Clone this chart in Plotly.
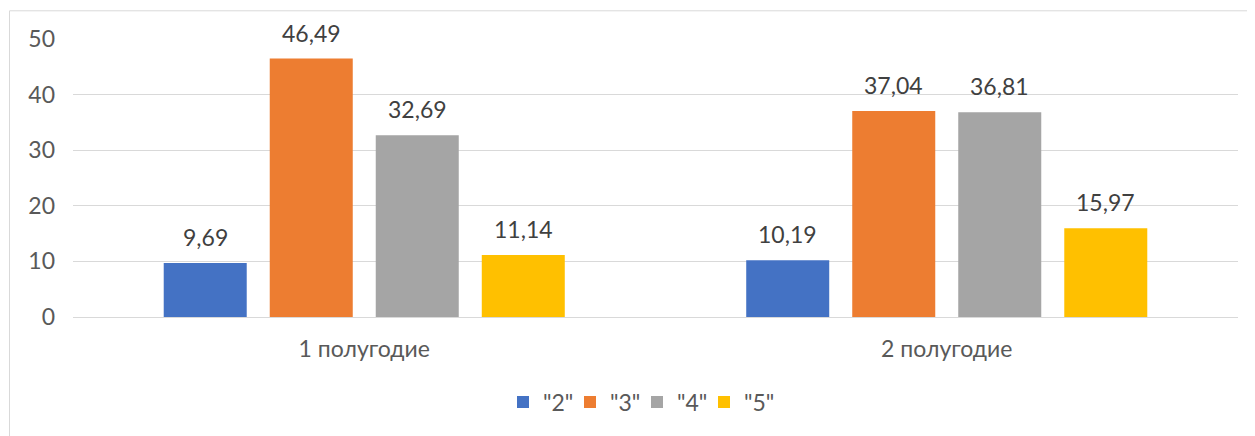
import plotly.graph_objects as go

categories = ["1 полугодие", "2 полугодие"]
series_names = ['"2"', '"3"', '"4"', '"5"']
values_2 = [9.69, 10.19]
values_3 = [46.49, 37.04]
values_4 = [32.69, 36.81]
values_5 = [11.14, 15.97]
colors = ["#4472C4", "#ED7D31", "#A5A5A5", "#FFC000"]
y_ticks = [0, 10, 20, 30, 40, 50]

FONT = "Lato, 'Open Sans', sans-serif"
TXT = "#595959"
FS = 23

W, H = 1247, 428
l, r, t, b = 65, 17, 31, 116
pw, ph = W - l - r, H - t - b
BARGAP, GROUPGAP = 0.272, 0.217
n_series = 4

def px_to_paper_x(px):
    return (px - l) / pw

def px_to_paper_y(py):
    return (H - b - py) / ph

fig = go.Figure()
all_vals = [values_2, values_3, values_4, values_5]
cat_px = pw / len(categories)
slot_px = cat_px * (1 - BARGAP) / n_series
for i, (name, vals, col) in enumerate(zip(series_names, all_vals, colors)):
    fig.add_trace(go.Bar(
        x=categories, y=vals, name=name, marker=dict(color=col, line=dict(width=0)),
    ))
    for c, v in zip(categories, vals):
        fig.add_annotation(x=c, y=v, xref="x", yref="y", text=f"{v:.2f}".replace(".", ","),
                           showarrow=False, yanchor="bottom", xanchor="center",
                           xshift=slot_px * (i - (n_series - 1) / 2), yshift=10,
                           font=dict(family=FONT, size=FS, color="#404040"))

# invisible spacer entry so the last legend label is not clipped
fig.add_trace(go.Scatter(x=[None], y=[None], mode="markers", name="\u00a0",
                         marker=dict(color="rgba(0,0,0,0)", size=1), hoverinfo="skip",
                         showlegend=True))

fig.add_shape(type="rect", xref="paper", yref="paper",
              x0=px_to_paper_x(1.5), x1=px_to_paper_x(1262),
              y0=px_to_paper_y(445), y1=px_to_paper_y(2.5),
              line=dict(color="#D9D9D9", width=1), fillcolor="rgba(0,0,0,0)", layer="below")

fig.update_layout(
    width=W, height=H,
    margin=dict(l=l, r=r, t=t, b=b),
    plot_bgcolor="white", paper_bgcolor="white",
    barmode="group", bargap=BARGAP, bargroupgap=GROUPGAP,
    separators=", ",
    font=dict(family=FONT, size=FS, color=TXT),
    showlegend=True,
    legend=dict(orientation="h", x=px_to_paper_x(495), xanchor="left", y=px_to_paper_y(398), yanchor="middle",
                font=dict(family=FONT, size=FS, color=TXT), itemwidth=30,
                entrywidth=22, entrywidthmode="pixels",
                traceorder="normal"),
    xaxis=dict(showgrid=False, showline=False, ticks="", ticklabelstandoff=16,
               tickfont=dict(family=FONT, size=FS, color=TXT)),
    yaxis=dict(range=[0, 50], tickvals=y_ticks, showgrid=True, gridcolor="#D9D9D9", gridwidth=1,
               zeroline=True, zerolinecolor="#D9D9D9", zerolinewidth=1, showline=False,
               ticks="", ticklabelstandoff=17,
               tickfont=dict(family=FONT, size=FS, color=TXT)),
)

fig.write_html("out.html")
